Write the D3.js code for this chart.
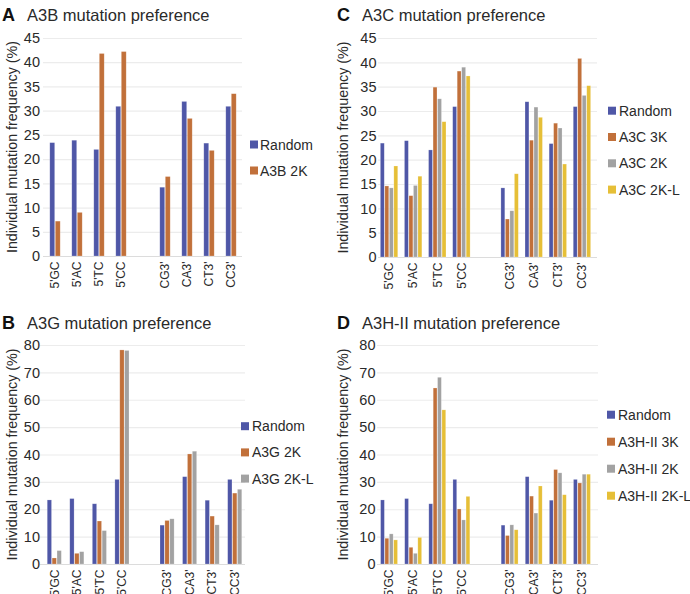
<!DOCTYPE html>
<html>
<head>
<meta charset="utf-8">
<script src="https://cdn.jsdelivr.net/npm/d3@7"></script>
<style>
  body { margin: 0; background: #fff; }
  svg { font-family: "Liberation Sans", Arial, Helvetica, sans-serif; }
</style>
</head>
<body>
<script>
var categories = ["5'GC", "5'AC", "5'TC", "5'CC", "CG3'", "CA3'", "CT3'", "CC3'"];
var slots = ["5'GC", "5'AC", "5'TC", "5'CC", "gap", "CG3'", "CA3'", "CT3'", "CC3'"];

var random = [23.4, 23.9, 22.0, 30.9, 14.2, 31.9, 23.3, 30.9];
var a3b2k  = [7.2, 9.0, 41.8, 42.2, 16.4, 28.4, 21.8, 33.5];
var a3c3k  = [14.6, 12.6, 34.9, 38.2, 7.8, 24.0, 27.5, 40.8];
var a3c2k  = [14.2, 14.7, 32.5, 39.0, 9.5, 30.8, 26.5, 33.2];
var a3c2kl = [18.7, 16.6, 27.8, 37.2, 17.1, 28.7, 19.1, 35.2];
var a3g2k  = [2.2, 3.9, 15.7, 78.2, 15.9, 40.2, 17.5, 25.9];
var a3g2kl = [4.9, 4.5, 12.2, 78.0, 16.5, 41.2, 14.3, 27.3];
var a3h3k  = [9.4, 6.1, 64.3, 20.1, 10.4, 24.8, 34.5, 29.6];
var a3h2k  = [11.0, 3.9, 68.2, 16.1, 14.3, 18.6, 33.3, 32.8];
var a3h2kl = [8.8, 9.7, 56.3, 24.7, 12.5, 28.5, 25.3, 32.8];

var ticksAC = [0, 5, 10, 15, 20, 25, 30, 35, 40, 45];
var ticksBD = [0, 10, 20, 30, 40, 50, 60, 70, 80];

var colors = { blue: "#4f57a7", orange: "#c1703a", grey: "#a2a2a2", yellow: "#e6bf37" };

var panels = [
  { letter: "A", title: "A3B mutation preference", ticks: ticksAC,
    series: [["Random", random, colors.blue], ["A3B 2K", a3b2k, colors.orange]],
    left: 0, top: 0, band: [44, 242], yr: [256, 38], grid: [43, 242], group: 11,
    tickX: 40, ylabX: 12, legX: 250, legY: 144.5, legStep: 26, textDx: 10 },
  { letter: "C", title: "A3C mutation preference", ticks: ticksAC,
    series: [["Random", random, colors.blue], ["A3C 3K", a3c3k, colors.orange],
             ["A3C 2K", a3c2k, colors.grey], ["A3C 2K-L", a3c2kl, colors.yellow]],
    left: 335, top: 0, band: [42, 259], yr: [257, 38], grid: [43, 262], group: 18,
    tickX: 41.5, ylabX: 8, legX: 273, legY: 110.7, legStep: 26.3, textDx: 11 },
  { letter: "B", title: "A3G mutation preference", ticks: ticksBD,
    series: [["Random", random, colors.blue], ["A3G 2K", a3g2k, colors.orange],
             ["A3G 2K-L", a3g2kl, colors.grey]],
    left: 0, top: 308, band: [43, 246], yr: [256, 37], grid: [40, 245], group: 14.7,
    tickX: 40, ylabX: 12, legX: 241, legY: 118.2, legStep: 26.2, textDx: 11 },
  { letter: "D", title: "A3H-II mutation preference", ticks: ticksBD,
    series: [["Random", random, colors.blue], ["A3H-II 3K", a3h3k, colors.orange],
             ["A3H-II 2K", a3h2k, colors.grey], ["A3H-II 2K-L", a3h2kl, colors.yellow]],
    left: 335, top: 308, band: [42, 259], yr: [256, 37], grid: [42, 263], group: 17.5,
    tickX: 40.5, ylabX: 8, legX: 272, legY: 106.7, legStep: 27, textDx: 11 }
];

var svg = d3.select("body").append("svg")
  .attr("width", 690)
  .attr("height", 594);

panels.forEach(function(p) {
  var g = svg.append("g").attr("transform", "translate(" + p.left + "," + p.top + ")");
  var ymax = p.ticks[p.ticks.length - 1];

  var x0 = d3.scaleBand().domain(slots).range(p.band).padding(0);
  var bw = x0.bandwidth();
  var x1 = d3.scaleBand().domain(p.series.map(function(s) { return s[0]; }))
    .range([(bw - p.group) / 2, (bw + p.group) / 2]);
  var y = d3.scaleLinear().domain([0, ymax]).range(p.yr);

  // gridlines
  g.selectAll(".grid").data(p.ticks).enter().append("line")
    .attr("x1", p.grid[0]).attr("x2", p.grid[1])
    .attr("y1", function(d) { return y(d) + 0.5; })
    .attr("y2", function(d) { return y(d) + 0.5; })
    .attr("stroke", function(d) { return d === 0 ? "#dcdcdc" : "#ececec"; })
    .attr("stroke-width", 1.2);

  // y tick labels
  g.selectAll(".ytick").data(p.ticks).enter().append("text")
    .attr("x", p.tickX).attr("y", function(d) { return y(d); })
    .attr("dy", "0.36em")
    .attr("text-anchor", "end")
    .attr("font-size", 14.5)
    .attr("fill", "#2a2a2a")
    .text(function(d) { return d; });

  // bars
  p.series.forEach(function(s) {
    g.selectAll(".bar-" + s[0].replace(/\W/g, "")).data(s[1]).enter().append("rect")
      .attr("x", function(d, i) { return x0(categories[i]) + x1(s[0]) + 0.3; })
      .attr("width", x1.bandwidth() - 0.6)
      .attr("y", function(d) { return y(d); })
      .attr("height", function(d) { return y(0) - y(d); })
      .attr("fill", s[2])
      .attr("stroke", "#ffffff")
      .attr("stroke-opacity", 0.35)
      .attr("stroke-width", 0.6);
  });

  // x labels
  g.selectAll(".xlab").data(categories).enter().append("text")
    .attr("transform", function(d) {
      return "translate(" + (x0(d) + bw / 2) + "," + (p.yr[0] + 5.5) + ") rotate(-90)";
    })
    .attr("dy", "0.36em")
    .attr("text-anchor", "end")
    .attr("font-size", 12)
    .attr("fill", "#2a2a2a")
    .text(function(d) { return d; });

  // y axis title
  g.append("text")
    .attr("transform", "translate(" + p.ylabX + "," + ((p.yr[0] + p.yr[1]) / 2) + ") rotate(-90)")
    .attr("dy", "0.36em")
    .attr("text-anchor", "middle")
    .attr("font-size", 14.3)
    .attr("fill", "#2a2a2a")
    .text("Individual mutation frequency (%)");

  // panel letter + title
  g.append("text")
    .attr("x", 2).attr("y", 21)
    .attr("font-size", 18).attr("font-weight", "bold")
    .attr("fill", "#111")
    .text(p.letter);
  g.append("text")
    .attr("x", 27).attr("y", 21)
    .attr("font-size", 16.5)
    .attr("fill", "#2a2a2a")
    .text(p.title);

  // legend
  var leg = g.selectAll(".leg").data(p.series).enter().append("g")
    .attr("transform", function(d, i) {
      return "translate(" + p.legX + "," + (p.legY + i * p.legStep) + ")";
    });
  leg.append("rect")
    .attr("x", 0).attr("y", -4).attr("width", 8).attr("height", 8)
    .attr("fill", function(d) { return d[2]; });
  leg.append("text")
    .attr("x", p.textDx).attr("y", 0).attr("dy", "0.36em")
    .attr("font-size", 14)
    .attr("fill", "#2a2a2a")
    .text(function(d) { return d[0]; });
});
</script>
</body>
</html>
